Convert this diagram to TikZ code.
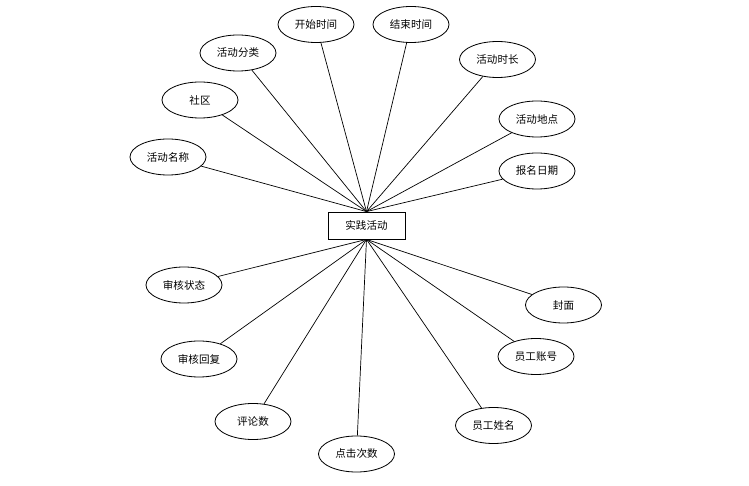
\documentclass[tikz,border=0pt]{standalone}
\usepackage{fontspec}
\setmainfont{Noto Sans CJK SC}
\usetikzlibrary{shapes.geometric}

\begin{document}
\begin{tikzpicture}[
      x=0.03cm, y=-0.03cm,
      entity/.style={rectangle, draw=black, line width=0.7pt, fill=white,
                  minimum width=2.31cm, minimum height=0.81cm, inner sep=0pt,
                  font=\fontsize{9}{10}\selectfont},
      attr/.style={ellipse, draw=black, line width=0.7pt, fill=white,
                  minimum width=2.28cm, minimum height=1.08cm, inner sep=0pt,
                  font=\fontsize{9}{10}\selectfont},
      link/.style={draw=black, line width=0.6pt}
    ]
    \useasboundingbox (0,0) rectangle (749,486);
    \node[entity] (act) at (366.5,225.5) {实践活动};

    % upper attributes
    \node[attr] (start) at (316,24.5) {开始时间};
    \node[attr] (finish) at (411,24.5) {结束时间};
    \node[attr] (kind) at (238,53) {活动分类};
    \node[attr] (length) at (497.5,59.5) {活动时长};
    \node[attr] (area) at (200,100) {社区};
    \node[attr] (place) at (537,119) {活动地点};
    \node[attr] (name) at (168,157) {活动名称};
    \node[attr] (signup) at (537,171) {报名日期};

    % lower attributes
    \node[attr] (state) at (184,285) {审核状态};
    \node[attr] (cover) at (563.5,305) {封面};
    \node[attr] (reply) at (199,359) {审核回复};
    \node[attr] (staffid) at (536,356.5) {员工账号};
    \node[attr] (comments) at (253,421.5) {评论数};
    \node[attr] (staffname) at (493.5,425.5) {员工姓名};
    \node[attr] (clicks) at (356.5,454) {点击次数};

    \foreach \a in {start, finish, kind, length, area, place, name, signup}
      \draw[link] (\a) -- (act.north);
    \foreach \a in {state, cover, reply, staffid, comments, staffname, clicks}
      \draw[link] (\a) -- (act.south);
  \end{tikzpicture}
\end{document}
